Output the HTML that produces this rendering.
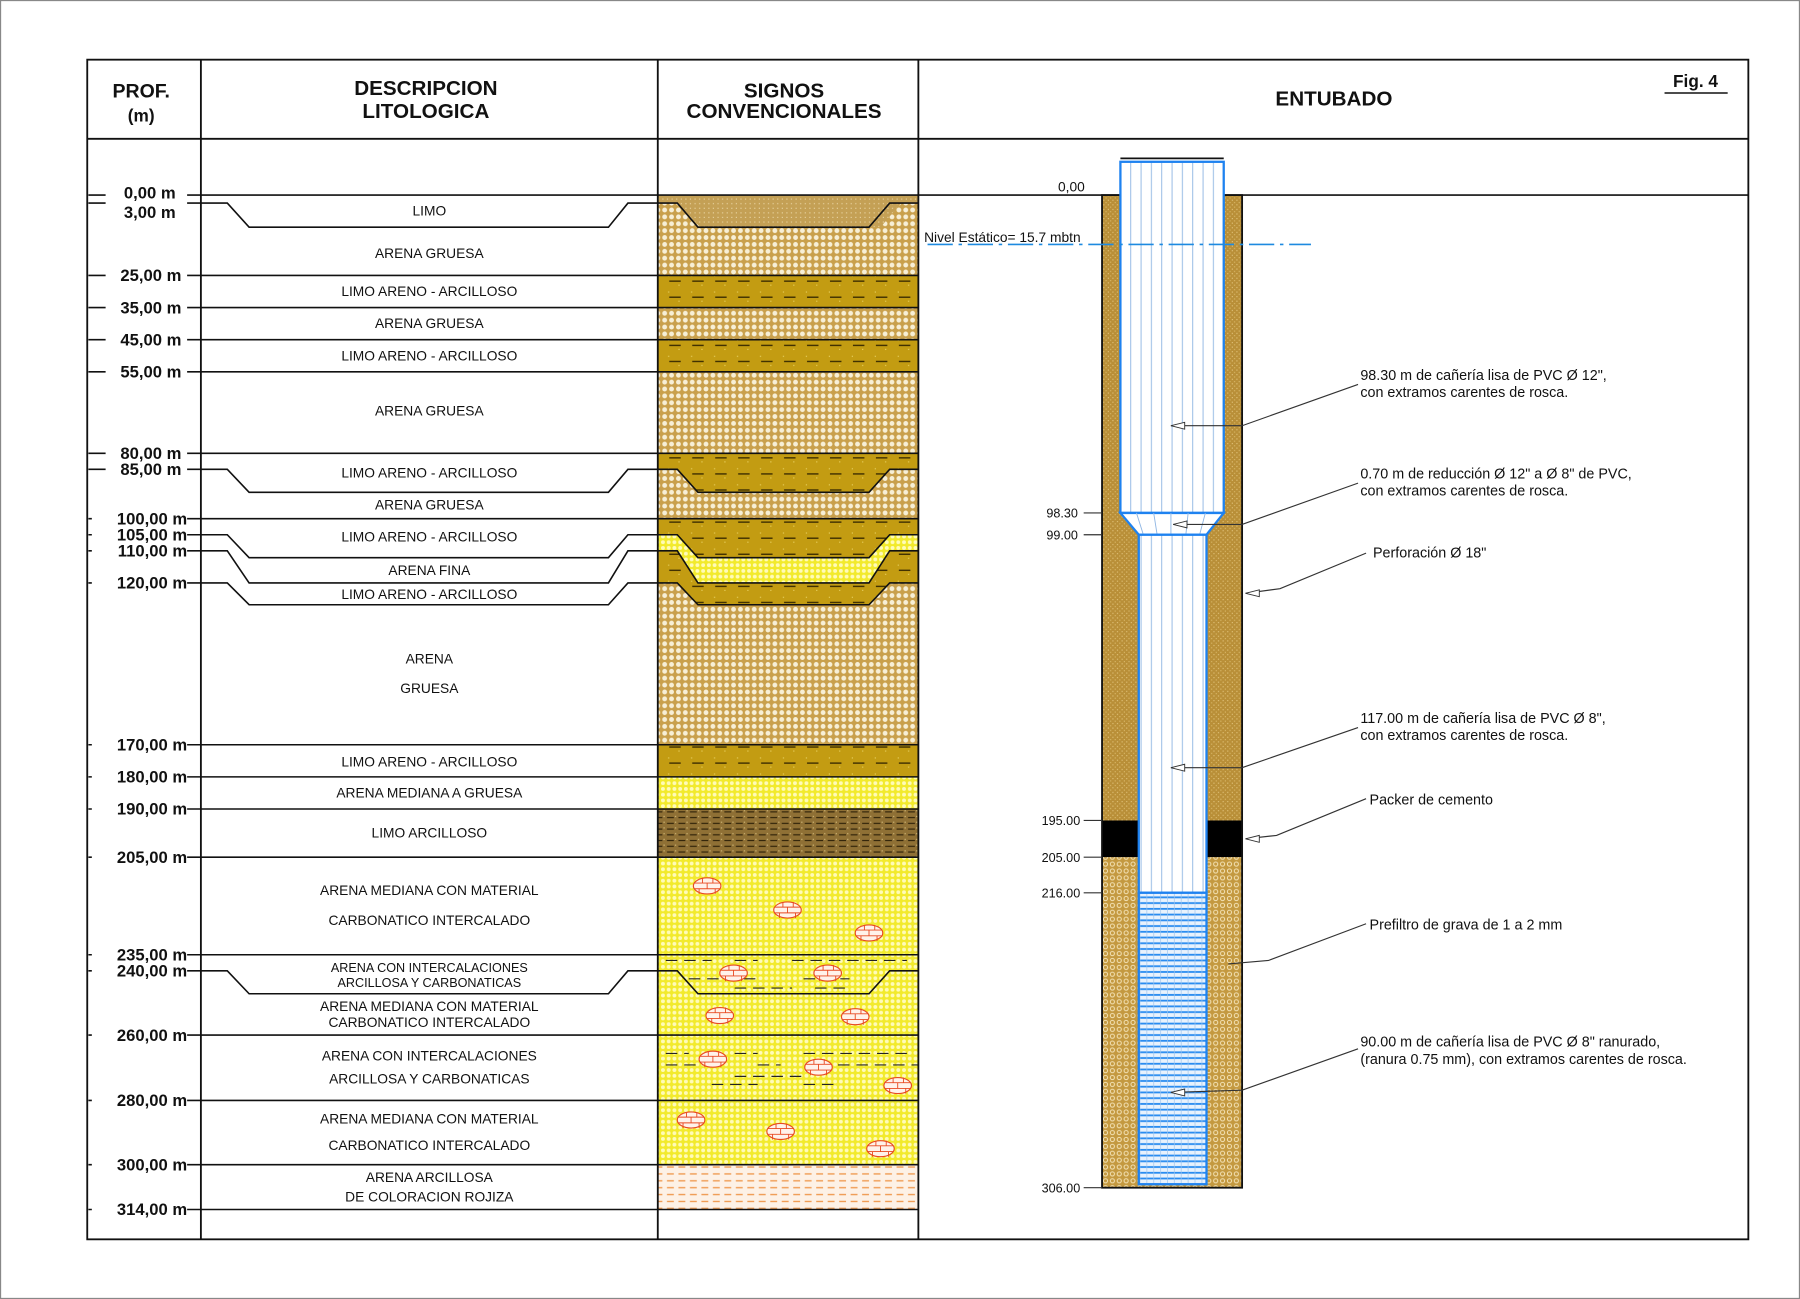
<!DOCTYPE html>
<html><head><meta charset="utf-8"><style>
html,body{margin:0;padding:0;background:#fff;}
svg{display:block;}
text{font-family:"Liberation Sans",sans-serif;}
</style></head><body>
<svg width="1800" height="1299" viewBox="0 0 1568 1132" preserveAspectRatio="none" xmlns="http://www.w3.org/2000/svg">
<defs>
<pattern id="sand" width="6" height="6" patternUnits="userSpaceOnUse"><rect width="6" height="6" fill="#c9a04c"/><circle cx="3" cy="3" r="2.1" fill="#f7efd6"/></pattern>
<pattern id="limoT" width="4" height="4" patternUnits="userSpaceOnUse"><rect width="4" height="4" fill="#c4a055"/><rect x="1" y="1" width="1" height="1" fill="#e8d3a0"/></pattern>
<pattern id="limo" width="20" height="14" patternUnits="userSpaceOnUse"><rect width="20" height="14" fill="#c39c12"/><rect x="2" y="2" width="1" height="1" fill="#e8d060"/><rect x="11" y="10" width="1" height="1" fill="#e8d060"/><line x1="3" y1="7" x2="13" y2="7" stroke="#3b2c00" stroke-width="1.2"/></pattern>
<pattern id="yel" width="5" height="5" patternUnits="userSpaceOnUse"><rect width="5" height="5" fill="#f2ea2c"/><circle cx="2.5" cy="2.5" r="1.7" fill="#fffbb8"/></pattern>
<pattern id="dark" width="10" height="5" patternUnits="userSpaceOnUse"><rect width="10" height="5" fill="#8f7035"/><line x1="1" y1="2.5" x2="7" y2="2.5" stroke="#2e2108" stroke-width="1"/><rect x="8" y="1" width="1" height="1" fill="#d8c080"/></pattern>
<pattern id="roj" width="10" height="6" patternUnits="userSpaceOnUse"><rect width="10" height="6" fill="#fdf1e6"/><line x1="1" y1="3" x2="7" y2="3" stroke="#f09a50" stroke-width="1.2"/></pattern>
<pattern id="hole" width="4" height="4" patternUnits="userSpaceOnUse"><rect width="4" height="4" fill="#b98f38"/><rect x="1" y="2" width="1" height="1" fill="#e0c27a"/><rect x="3" y="0" width="1" height="1" fill="#d9b868"/></pattern>
<pattern id="grav" width="6" height="6" patternUnits="userSpaceOnUse"><rect width="6" height="6" fill="#c49940"/><circle cx="3" cy="3" r="1.8" fill="none" stroke="#f3e2b5" stroke-width="0.9"/></pattern>
<pattern id="casing" width="9" height="10" patternUnits="userSpaceOnUse"><rect width="9" height="10" fill="#fff"/><line x1="4" y1="0" x2="4" y2="10" stroke="#8fb6e3" stroke-width="0.8"/></pattern>
<pattern id="screen" width="6" height="5" patternUnits="userSpaceOnUse"><rect width="6" height="5" fill="#e8f2fd"/><line x1="0" y1="2" x2="6" y2="2" stroke="#2a8cf0" stroke-width="1.6"/><line x1="3" y1="0" x2="3" y2="5" stroke="#9cc4ee" stroke-width="0.6"/></pattern>
<g id="carb"><ellipse cx="0" cy="0" rx="12" ry="7" fill="#fff2ea" stroke="#e84a22" stroke-width="1"/><path d="M-11,-2.5H11M-11,2.5H11M-4,-7V-2.5M5,-7V-2.5M0,-2.5V2.5M-7,2.5V7M7,2.5V7" stroke="#e84a22" stroke-width="0.8" fill="none"/></g>
</defs>
<rect width="1568" height="1132" fill="#fff"/>
<rect x="0.5" y="0.5" width="1567" height="1131" fill="none" stroke="#888" stroke-width="1"/>

<!-- signs column fills -->
<g>
<rect x="573" y="170" width="227" height="70" fill="url(#sand)"/>
<polygon points="573,170 800,170 800,177 785,177 767,198 610,198 590,177 573,177" fill="url(#limoT)"/>
<rect x="573" y="240" width="227" height="28" fill="url(#limo)"/>
<rect x="573" y="268" width="227" height="28" fill="url(#sand)"/>
<rect x="573" y="296" width="227" height="28" fill="url(#limo)"/>
<rect x="573" y="324" width="227" height="71" fill="url(#sand)"/>
<rect x="573" y="395" width="227" height="57" fill="url(#sand)"/>
<polygon points="573,395 800,395 800,409 775,409 757,429 608,429 590,409 573,409" fill="url(#limo)"/>
<rect x="573" y="452" width="227" height="197" fill="url(#sand)"/>
<polygon points="573,452 800,452 800,466 775,466 757,486 608,486 590,466 573,466" fill="url(#limo)"/>
<polygon points="573,466 590,466 608,486 757,486 775,466 800,466 800,480 775,480 757,508 608,508 590,480 573,480" fill="url(#yel)"/>
<polygon points="573,480 590,480 608,508 757,508 775,480 800,480 800,508 775,508 757,527 608,527 590,508 573,508" fill="url(#limo)"/>
<rect x="573" y="649" width="227" height="28" fill="url(#limo)"/>
<rect x="573" y="677" width="227" height="28" fill="url(#yel)"/>
<rect x="573" y="705" width="227" height="42" fill="url(#dark)"/>
<rect x="573" y="747" width="227" height="268" fill="url(#yel)"/>
<rect x="573" y="1015" width="227" height="39" fill="url(#roj)"/>
<g stroke="#222" stroke-width="1" stroke-dasharray="10,6" fill="none">
<path d="M580,837H620M640,837H660M690,837H790M600,853H660M700,853H740M640,861H690M710,861H740"/>
<path d="M580,918H600M640,918H660M700,918H790M580,928H620M660,928H680M730,928H800M640,938H700M620,945H660M700,945H730"/>
</g>
<use href="#carb" x="616" y="772"/><use href="#carb" x="686" y="793"/><use href="#carb" x="757" y="813"/>
<use href="#carb" x="639" y="848"/><use href="#carb" x="721" y="848"/>
<use href="#carb" x="627" y="885"/><use href="#carb" x="745" y="886"/>
<use href="#carb" x="621" y="923"/><use href="#carb" x="713" y="930"/><use href="#carb" x="782" y="946"/>
<use href="#carb" x="602" y="976"/><use href="#carb" x="680" y="986"/><use href="#carb" x="767" y="1001"/>
</g>

<!-- frame -->
<g stroke="#111" fill="none" stroke-width="1.6">
<rect x="76" y="52" width="1447" height="1028"/>
<line x1="76" y1="121" x2="1523" y2="121"/>
<line x1="175" y1="52" x2="175" y2="1080"/>
<line x1="573" y1="52" x2="573" y2="1080"/>
<line x1="800" y1="52" x2="800" y2="1080"/>
</g>

<!-- headers -->
<g font-weight="bold" fill="#111" text-anchor="middle">
<text x="123" y="85" font-size="17">PROF.</text>
<text x="123" y="106" font-size="15">(m)</text>
<text x="371" y="83" font-size="18">DESCRIPCION</text>
<text x="371" y="103" font-size="18">LITOLOGICA</text>
<text x="683" y="85" font-size="18">SIGNOS</text>
<text x="683" y="103" font-size="18">CONVENCIONALES</text>
<text x="1162" y="92" font-size="18">ENTUBADO</text>
<text x="1477" y="76" font-size="15">Fig. 4</text>
</g>
<line x1="1450" y1="81" x2="1505" y2="81" stroke="#111" stroke-width="1.3"/>

<!-- depth lines -->
<g stroke="#111" stroke-width="1.4" fill="none">
<line x1="163" y1="170" x2="1523" y2="170"/>
<path d="M163,177H198L217,198H530L547,177H590L608,198H757L775,177H800"/>
<path d="M163,240H800M163,268H800M163,296H800M163,324H800M163,395H800M163,452H800"/>
<path d="M163,409H198L217,429H530L547,409H590L608,429H757L775,409H800"/>
<path d="M163,466H198L217,486H530L547,466H590L608,486H757L775,466H800"/>
<path d="M163,480H198L217,508H530L547,480H590L608,508H757L775,480H800"/>
<path d="M163,508H198L217,527H530L547,508H590L608,527H757L775,508H800"/>
<path d="M163,649H800M163,677H800M163,705H800M163,747H800M163,832H800M163,902H800M163,959H800M163,1015H800M163,1054H800"/>
<path d="M163,846H198L217,866H530L547,846H590L608,866H757L775,846H800"/>
<path d="M77,177H92M77,170H92M77,240H92M77,268H92M77,296H92M77,324H92M77,395H92M77,409H92M77,452H80M77,466H80M77,480H80M77,508H80M77,649H80M77,677H80M77,705H80M77,747H80M77,832H80M77,846H80M77,902H80M77,959H80M77,1015H80M77,1054H80"/>
</g>
<g font-weight="bold" font-size="14.5" fill="#111" text-anchor="end">
<text x="153" y="173">0,00 m</text>
<text x="153" y="190">3,00 m</text>
<text x="158" y="245">25,00 m</text>
<text x="158" y="273">35,00 m</text>
<text x="158" y="301">45,00 m</text>
<text x="158" y="329">55,00 m</text>
<text x="158" y="400">80,00 m</text>
<text x="158" y="414">85,00 m</text>
<text x="163" y="457">100,00 m</text>
<text x="163" y="471">105,00 m</text>
<text x="163" y="485">110,00 m</text>
<text x="163" y="513">120,00 m</text>
<text x="163" y="654">170,00 m</text>
<text x="163" y="682">180,00 m</text>
<text x="163" y="710">190,00 m</text>
<text x="163" y="752">205,00 m</text>
<text x="163" y="837">235,00 m</text>
<text x="163" y="851">240,00 m</text>
<text x="163" y="907">260,00 m</text>
<text x="163" y="964">280,00 m</text>
<text x="163" y="1020">300,00 m</text>
<text x="163" y="1059">314,00 m</text>
</g>

<!-- descriptions -->
<g font-size="12" fill="#111" text-anchor="middle">
<text x="374" y="188">LIMO</text>
<text x="374" y="225">ARENA GRUESA</text>
<text x="374" y="258">LIMO ARENO - ARCILLOSO</text>
<text x="374" y="286">ARENA GRUESA</text>
<text x="374" y="314">LIMO ARENO - ARCILLOSO</text>
<text x="374" y="362">ARENA GRUESA</text>
<text x="374" y="416">LIMO ARENO - ARCILLOSO</text>
<text x="374" y="444">ARENA GRUESA</text>
<text x="374" y="472">LIMO ARENO - ARCILLOSO</text>
<text x="374" y="501">ARENA FINA</text>
<text x="374" y="522">LIMO ARENO - ARCILLOSO</text>
<text x="374" y="578">ARENA</text>
<text x="374" y="604">GRUESA</text>
<text x="374" y="668">LIMO ARENO - ARCILLOSO</text>
<text x="374" y="695">ARENA MEDIANA A GRUESA</text>
<text x="374" y="730">LIMO ARCILLOSO</text>
<text x="374" y="780">ARENA MEDIANA CON MATERIAL</text>
<text x="374" y="806">CARBONATICO INTERCALADO</text>
<text x="374" y="847" font-size="11">ARENA CON INTERCALACIONES</text>
<text x="374" y="860" font-size="11">ARCILLOSA Y CARBONATICAS</text>
<text x="374" y="881">ARENA MEDIANA CON MATERIAL</text>
<text x="374" y="895">CARBONATICO INTERCALADO</text>
<text x="374" y="924">ARENA CON INTERCALACIONES</text>
<text x="374" y="944">ARCILLOSA Y CARBONATICAS</text>
<text x="374" y="979">ARENA MEDIANA CON MATERIAL</text>
<text x="374" y="1002">CARBONATICO INTERCALADO</text>
<text x="374" y="1030">ARENA ARCILLOSA</text>
<text x="374" y="1047">DE COLORACION ROJIZA</text>
</g>

<!-- entubado -->
<rect x="960" y="170" width="122" height="545" fill="url(#hole)"/>
<rect x="960" y="715" width="122" height="32" fill="#000"/>
<rect x="960" y="747" width="122" height="288" fill="url(#grav)"/>
<rect x="960" y="170" width="122" height="865" fill="none" stroke="#111" stroke-width="1.6"/>
<rect x="976" y="141" width="90" height="306" fill="url(#casing)" stroke="#1e82f0" stroke-width="2"/>
<polygon points="976,447 1066,447 1051,466 992,466" fill="#fff" stroke="#1e82f0" stroke-width="2"/>
<path d="M990,447L996,466M1005,447L1008,466M1020,447V466M1035,447L1033,466M1050,447L1045,466" stroke="#8fb6e3" stroke-width="0.8"/>
<rect x="992" y="466" width="59" height="312" fill="url(#casing)" stroke="#1e82f0" stroke-width="2"/>
<rect x="992" y="778" width="59" height="254" fill="url(#screen)" stroke="#1e82f0" stroke-width="2"/>
<line x1="976" y1="138" x2="1066" y2="138" stroke="#111" stroke-width="1.5"/>

<g font-size="11" fill="#111" text-anchor="end">
<text x="945" y="167" font-size="12">0,00</text>
<text x="939" y="451">98.30</text>
<text x="939" y="470">99.00</text>
<text x="941" y="719">195.00</text>
<text x="941" y="751">205.00</text>
<text x="941" y="782">216.00</text>
<text x="941" y="1039">306.00</text>
</g>
<path d="M944,447H960M944,466H960M944,715H960M944,747H960M944,778H960M944,1035H960" stroke="#333" stroke-width="1"/>

<text x="805" y="211" font-size="12" fill="#111">Nivel Estático= 15.7 mbtn</text>
<line x1="808" y1="213" x2="1142" y2="213" stroke="#1e8ae0" stroke-width="1.5" stroke-dasharray="22,5,3,5"/>

<!-- callouts -->
<g stroke="#333" stroke-width="1" fill="none">
<path d="M1183,335L1082,371H1020"/>
<path d="M1183,421L1082,457H1022"/>
<path d="M1190,482L1115,513L1085,517"/>
<path d="M1183,634L1082,669H1020"/>
<path d="M1190,696L1112,728L1085,731"/>
<path d="M1190,805L1105,837L1070,840"/>
<path d="M1183,914L1082,950L1020,952"/>
</g>
<g fill="#fff" stroke="#333" stroke-width="0.8">
<polygon points="1020,371 1032,368 1032,374"/>
<polygon points="1022,457 1034,454 1034,460"/>
<polygon points="1085,517 1097,514 1097,520"/>
<polygon points="1020,669 1032,666 1032,672"/>
<polygon points="1085,731 1097,728 1097,734"/>
<polygon points="1020,952 1032,949 1032,955"/>
</g>
<g font-size="12.5" fill="#111">
<text x="1185" y="331">98.30 m de cañería lisa de PVC Ø 12",</text>
<text x="1185" y="346">con extramos carentes de rosca.</text>
<text x="1185" y="417">0.70 m de reducción Ø 12" a Ø 8" de PVC,</text>
<text x="1185" y="432">con extramos carentes de rosca.</text>
<text x="1196" y="486">Perforación Ø 18"</text>
<text x="1185" y="630">117.00 m de cañería lisa de PVC Ø 8",</text>
<text x="1185" y="645">con extramos carentes de rosca.</text>
<text x="1193" y="701">Packer de cemento</text>
<text x="1193" y="810">Prefiltro de grava de 1 a 2 mm</text>
<text x="1185" y="912">90.00 m de cañería lisa de PVC Ø 8" ranurado,</text>
<text x="1185" y="927">(ranura 0.75 mm), con extramos carentes de rosca.</text>
</g>
</svg>
</body></html>
